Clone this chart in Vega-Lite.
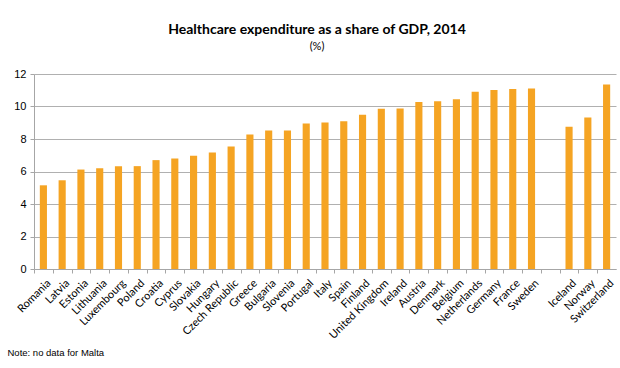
{
  "$schema": "https://vega.github.io/schema/vega-lite/v6.json",
  "width": 582,
  "height": 195,
  "autosize": {"type": "none"},
  "padding": {"left": 34, "top": 74, "right": 4, "bottom": 99},
  "background": "white",
  "title": {
    "text": "Healthcare expenditure as a share of GDP, 2014",
    "subtitle": "(%)",
    "font": "Lato",
    "fontSize": 14,
    "fontWeight": "bold",
    "color": "#000000",
    "subtitleFont": "Lato",
    "subtitleFontSize": 11,
    "subtitleColor": "#000000",
    "subtitlePadding": 4,
    "anchor": "middle",
    "dx": -8,
    "offset": 16
  },
  "data": {
    "values": [
      {"country": "Romania", "value": 5.15},
      {"country": "Latvia", "value": 5.46},
      {"country": "Estonia", "value": 6.12},
      {"country": "Lithuania", "value": 6.2},
      {"country": "Luxembourg", "value": 6.33},
      {"country": "Poland", "value": 6.33},
      {"country": "Croatia", "value": 6.7},
      {"country": "Cyprus", "value": 6.8},
      {"country": "Slovakia", "value": 6.97},
      {"country": "Hungary", "value": 7.17},
      {"country": "Czech Republic", "value": 7.54},
      {"country": "Greece", "value": 8.28},
      {"country": "Bulgaria", "value": 8.53},
      {"country": "Slovenia", "value": 8.53},
      {"country": "Portugal", "value": 8.96},
      {"country": "Italy", "value": 9.02},
      {"country": "Spain", "value": 9.1},
      {"country": "Finland", "value": 9.49},
      {"country": "United Kingdom", "value": 9.86},
      {"country": "Ireland", "value": 9.88},
      {"country": "Austria", "value": 10.27},
      {"country": "Denmark", "value": 10.33},
      {"country": "Belgium", "value": 10.44},
      {"country": "Netherlands", "value": 10.91},
      {"country": "Germany", "value": 11.01},
      {"country": "France", "value": 11.07},
      {"country": "Sweden", "value": 11.11},
      {"country": " ", "value": null},
      {"country": "Iceland", "value": 8.75},
      {"country": "Norway", "value": 9.33},
      {"country": "Switzerland", "value": 11.36}
    ]
  },
  "mark": {"type": "bar", "color": "#F5A423"},
  "encoding": {
    "x": {
      "field": "country",
      "type": "nominal",
      "scale": {
        "domain": ["Romania", "Latvia", "Estonia", "Lithuania", "Luxembourg", "Poland", "Croatia", "Cyprus", "Slovakia", "Hungary", "Czech Republic", "Greece", "Bulgaria", "Slovenia", "Portugal", "Italy", "Spain", "Finland", "United Kingdom", "Ireland", "Austria", "Denmark", "Belgium", "Netherlands", "Germany", "France", "Sweden", " ", "Iceland", "Norway", "Switzerland"],
        "paddingInner": 0.62,
        "paddingOuter": 0.31
      },
      "axis": {
        "title": "Note: no data for Malta",
        "titleFont": "Liberation Sans",
        "titleFontSize": 9.5,
        "titleFontWeight": "normal",
        "titleColor": "#000000",
        "titleAnchor": "start",
        "titleAlign": "left",
        "titleBaseline": "middle",
        "titleX": -27,
        "titleY": 83,
        "labelAngle": -45,
        "labelFont": "Lato",
        "labelFontSize": 11,
        "labelColor": "#000000",
        "labelPadding": 4,
        "labelOverlap": false,
        "labelBound": false,
        "labelFlush": false,
        "tickOffset": -9.4,
        "labelOffset": 10.4,
        "tickSize": 4,
        "tickColor": "#a6a6a6",
        "domainColor": "#a6a6a6",
        "grid": false
      }
    },
    "y": {
      "field": "value",
      "type": "quantitative",
      "scale": {"domain": [0, 12], "nice": false},
      "axis": {
        "title": null,
        "values": [0, 2, 4, 6, 8, 10, 12],
        "labelFont": "Liberation Sans",
        "labelFontSize": 11,
        "labelColor": "#000000",
        "labelPadding": 4,
        "tickSize": 4,
        "tickColor": "#a6a6a6",
        "domainColor": "#a6a6a6",
        "grid": true,
        "gridColor": "#b0b0b0",
        "gridWidth": 1
      }
    }
  },
  "config": {"view": {"stroke": null}}
}
